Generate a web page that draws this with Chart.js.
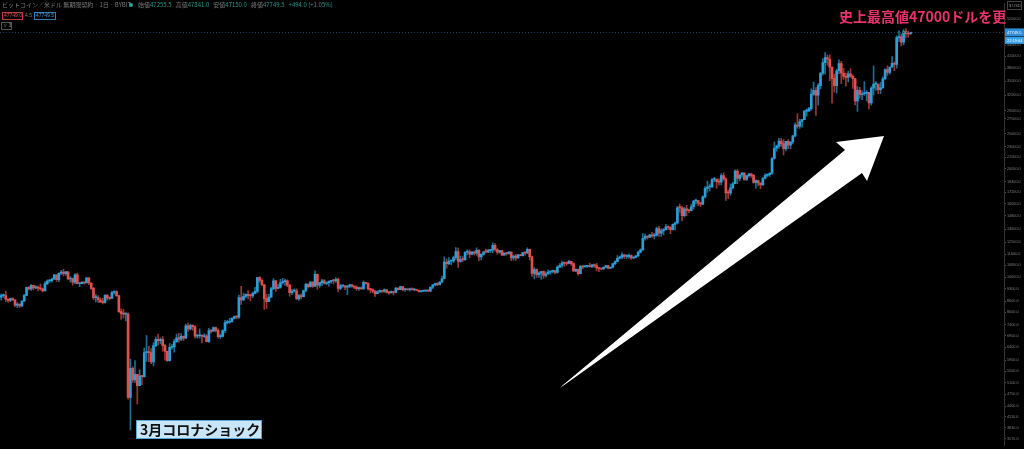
<!DOCTYPE html>
<html lang="ja">
<head>
<meta charset="utf-8">
<title>ビットコイン／米ドル 無期限契約 日足</title>
<script src="https://cdn.jsdelivr.net/npm/chart.js@4.4.1/dist/chart.umd.min.js"></script>
<style>
  html, body { margin: 0; padding: 0; background: #000; overflow: hidden; }
  #wrap { width: 1024px; height: 449px; position: relative; }
</style>
</head>
<body>
<div id="wrap"><canvas id="chart"></canvas></div>
<script>
// daily candles, BYBIT BTC/USD perpetual, 2020-01-17 .. 2021-02-14
const startDate = '2020-01-17';
const slotCount = 435; // visible day slots incl. empty space on the right
const firstOpen = 8820;

const closes = [
  8900, 8910, 8700, 8630, 8730, 8660, 8380, 8430, 8330, 8600, 8900, 9390, 9290, 9500, 9350,
  9390, 9340, 9290, 9180, 9610, 9770, 9800, 9900, 10170, 9860, 10270, 10350, 10240, 10360, 9900, 9930, 9700, 10170, 9600, 9610, 9690, 9660, 9970, 9650, 9320, 8790, 8790, 8670, 8540,
  8530, 8920, 8760, 8750, 9080, 9130, 8900, 8040, 7930, 7910, 7910, 4650, 5600, 5200, 5390, 5010, 5340, 5310, 6190, 6200, 6190, 5830, 6470, 6740, 6680, 6740, 6470, 6240, 5880, 6400, 6420,
  6640, 6800, 6740, 6870, 6780, 7340, 7200, 7370, 7300, 6870, 6890, 6920, 6860, 6880, 6640, 7120, 7100, 7260, 7130, 6850, 6860, 7120, 7490, 7510, 7540, 7700, 7790, 7760, 8790, 8660,
  8860, 8980, 8900, 8890, 9030, 9150, 9990, 9810, 9540, 8730, 8570, 8820, 9310, 9790, 9320, 9380, 9670, 9730, 9780, 9510, 9070, 9170, 9180, 8720, 8900, 8840, 9200, 9580, 9430, 9700, 9450,
  10200, 9520, 9670, 9790, 9620, 9670, 9750, 9790, 9780, 9880, 9320, 9470, 9480, 9390, 9450, 9540, 9460, 9400, 9310, 9360, 9290, 9690, 9630, 9290, 9250, 9160, 9010, 9120, 9190, 9140,
  9230, 9090, 9060, 9130, 9080, 9340, 9250, 9430, 9240, 9290, 9240, 9300, 9240, 9250, 9200, 9130, 9160, 9170, 9210, 9160, 9390, 9530, 9610, 9550, 9710, 9930, 11030, 10910, 11100, 11110, 11350,
  11800, 11070, 11230, 11190, 11740, 11770, 11600, 11760, 11680, 11880, 11400, 11580, 11780, 11770, 11860, 11910, 12280, 11950, 11750, 11860, 11520, 11680, 11650, 11750, 11330, 11460, 11320, 11540, 11480, 11710, 11680,
  11970, 11410, 10250, 10510, 10170, 10280, 10370, 10130, 10220, 10340, 10390, 10440, 10330, 10680, 10790, 10950, 10940, 10930, 11080, 10920, 10420, 10530, 10240, 10740, 10690, 10730, 10770, 10700, 10840, 10780,
  10620, 10570, 10550, 10670, 10790, 10600, 10670, 10920, 11060, 11300, 11380, 11540, 11430, 11430, 11500, 11320, 11360, 11480, 11740, 11920, 12820, 12970, 12930, 13120, 13030, 13070, 13650, 13270, 13460, 13560, 13800,
  13760, 13550, 14020, 14150, 15590, 15580, 14830, 15480, 15330, 15300, 15700, 16280, 16320, 16070, 15960, 16720, 17650, 17800, 17820, 18680, 18710, 18420, 18370, 19160, 18740, 17150, 17140, 17720, 18180, 19700,
  18800, 19220, 19450, 18700, 19150, 19360, 19170, 18320, 18550, 18260, 18040, 18800, 19170, 19270, 19440, 21350, 22800, 23110, 23870, 23480, 22740, 23820, 23240, 23730, 24660, 26440, 26250, 27040, 27370, 28880, 28950,
  29370, 32190, 33000, 31990, 33990, 36820, 39370, 40670, 40240, 38240, 35540, 34010, 37390, 39150, 36830, 36070, 35810, 36630, 36070, 35550, 30830, 33010, 32080, 32280, 32370, 32570, 30440, 33470, 34320, 34320, 33110,
  33540, 35510, 37680, 36980, 38290, 39190, 38900, 46200, 46480, 44840, 47970, 47400, 47255.5, 47749.5
];

const highs = [
  9010, 8990, 9160, 8740, 8770, 8790, 8670, 8520, 8440, 8610, 8970, 9400, 9430, 9550, 9520,
  9470, 9470, 9590, 9340, 9740, 9850, 9880, 9950, 10180, 10170, 10300, 10460, 10520, 10400, 10380, 10050, 9970, 10250, 10260, 9680, 9740, 9700, 9990, 9990, 9660, 9380, 8970, 8900, 8780,
  8750, 8960, 8980, 8840, 9150, 9190, 9180, 8900, 8180, 8150, 7980, 7970, 5940, 5650, 5880, 5390, 5540, 5350, 6370, 6900, 6440, 6350, 6600, 6830, 6960, 6800, 6860, 6520, 6240, 6560, 6520,
  6740, 6960, 7000, 6990, 6890, 7420, 7470, 7420, 7390, 7350, 6950, 7200, 6920, 6990, 6940, 7230, 7170, 7300, 7280, 7200, 6970, 7170, 7600, 7620, 7700, 7740, 7810, 7840, 8940, 9450,
  9050, 9000, 9190, 8960, 9100, 9390, 10000, 10050, 9910, 9570, 8980, 8970, 9380, 9920, 9820, 9570, 9880, 9940, 9900, 9840, 9570, 9270, 9300, 9300, 8980, 9010, 9220, 9610, 9590, 9740, 9720,
  10420, 10230, 9690, 9880, 9860, 9720, 9780, 9800, 9880, 9990, 9950, 9560, 9500, 9490, 9500, 9580, 9560, 9480, 9470, 9400, 9420, 9780, 9690, 9660, 9320, 9300, 9190, 9180, 9230, 9200,
  9300, 9260, 9130, 9180, 9150, 9370, 9360, 9460, 9440, 9320, 9300, 9340, 9350, 9290, 9270, 9220, 9180, 9200, 9240, 9230, 9420, 9550, 9650, 9680, 9740, 10080, 11400, 11250, 11340, 11170, 11450,
  12100, 12050, 11450, 11420, 11800, 11920, 11920, 11810, 11830, 12080, 11940, 11620, 11800, 11990, 11960, 11950, 12460, 12400, 12010, 11880, 11880, 11690, 11710, 11800, 11770, 11530, 11590, 11570, 11590, 11720, 11770,
  12080, 11990, 11460, 10640, 10560, 10360, 10400, 10430, 10360, 10500, 10410, 10470, 10460, 10770, 10930, 11100, 11040, 11050, 11170, 11080, 10990, 10560, 10540, 10780, 10760, 10790, 10800, 10950, 10860, 10880,
  10940, 10670, 10600, 10700, 10800, 10800, 10690, 10940, 11110, 11490, 11450, 11700, 11560, 11560, 11620, 11540, 11420, 11490, 11820, 12000, 13220, 13190, 13020, 13160, 13340, 13240, 13780, 13850, 13630, 13650, 14040,
  13900, 13810, 14070, 14240, 15750, 15960, 15770, 15650, 15840, 15460, 15950, 16340, 16480, 16330, 16140, 16840, 17860, 18480, 18130, 18780, 18950, 18750, 18770, 19400, 19480, 18900, 17450, 18160, 18330, 19850,
  19900, 19300, 19560, 19510, 19160, 19410, 19400, 19290, 18630, 18600, 18270, 18930, 19400, 19360, 19530, 21500, 23730, 23270, 24270, 24280, 24100, 23830, 24080, 23780, 24760, 26820, 28420, 27430, 27380, 28980, 29320,
  29600, 33300, 34800, 33600, 34440, 36940, 40370, 41950, 41380, 41350, 38260, 36600, 37810, 40100, 39700, 37950, 36820, 37300, 37850, 36400, 35600, 33800, 33640, 32880, 34880, 32940, 32600, 33780, 38500, 34860, 34330,
  34700, 35970, 37850, 38600, 38300, 40950, 39600, 46750, 48200, 47300, 48600, 48900, 48100, 47841
];

const lows = [
  8650, 8800, 8560, 8520, 8570, 8630, 8300, 8240, 8260, 8300, 8570, 8880, 9230, 9200, 9250,
  9310, 9170, 9220, 9110, 9170, 9540, 9690, 9700, 9860, 9740, 9730, 10170, 10090, 10120, 9860, 9700, 9520, 9590, 9590, 9420, 9600, 9570, 9650, 9540, 9260, 8680, 8550, 8520, 8520,
  8440, 8490, 8650, 8660, 8740, 8990, 8850, 8000, 7650, 7710, 7580, 4600, 3780, 5120, 5120, 4460, 5010, 5040, 5290, 5850, 5840, 5770, 5680, 6430, 6490, 6540, 6250, 5900, 5850, 5860, 6330,
  6210, 6600, 6610, 6680, 6690, 6770, 7080, 7150, 7140, 6780, 6790, 6780, 6580, 6820, 6620, 6600, 7010, 7080, 7060, 6780, 6760, 6840, 7030, 7420, 7460, 7510, 7670, 7680, 7700, 8410,
  8620, 8770, 8720, 8610, 8790, 9000, 9050, 9690, 9490, 8150, 8200, 8570, 8810, 9250, 9140, 9300, 9340, 9570, 9500, 9430, 8870, 8950, 9100, 8690, 8640, 8710, 8830, 9110, 9340, 9390, 9380,
  9420, 9270, 9380, 9480, 9580, 9550, 9450, 9620, 9590, 9690, 9120, 9250, 9380, 9240, 8950, 9370, 9380, 9300, 9200, 9200, 9270, 9280, 9570, 9220, 9050, 9060, 8850, 9000, 9080, 9090,
  9100, 9050, 8970, 9050, 8940, 9060, 9210, 9240, 9180, 9150, 9210, 9160, 9210, 9170, 9190, 9100, 9100, 9140, 9140, 9150, 9150, 9310, 9470, 9480, 9530, 9650, 9900, 10600, 10850, 10840, 10990,
  11220, 10660, 11000, 11060, 11140, 11560, 11350, 11540, 11530, 11530, 11130, 11180, 11520, 11680, 11700, 11700, 11690, 11820, 11600, 11670, 11500, 11520, 11530, 11590, 11130, 11160, 11150, 11280, 11480, 11450, 11520,
  11650, 11180, 10070, 9900, 10000, 10000, 9870, 9950, 10010, 10200, 10210, 10290, 10220, 10280, 10640, 10660, 10720, 10790, 10890, 10800, 10380, 10370, 10140, 10220, 10560, 10670, 10650, 10680, 10640, 10660,
  10430, 10380, 10500, 10520, 10620, 10560, 10580, 10630, 10830, 11050, 11260, 11250, 11280, 11280, 11280, 11220, 11250, 11330, 11420, 11690, 11880, 12680, 12760, 12890, 12900, 12780, 13010, 12980, 12990, 13120, 13530,
  13580, 13220, 13540, 13540, 14060, 15140, 14330, 14720, 14820, 15080, 15280, 15460, 15980, 15800, 15700, 15900, 16570, 17200, 17360, 17760, 18420, 17640, 18000, 18050, 18580, 16350, 16520, 16900, 17580, 18180,
  18200, 18500, 18950, 18570, 18560, 18950, 18920, 18230, 17680, 17920, 17610, 18020, 18740, 19000, 19060, 19290, 21250, 22370, 22790, 23080, 21840, 22400, 22740, 22740, 23440, 24500, 25900, 25870, 26080, 27340, 27960,
  28800, 29030, 31960, 28100, 30000, 33300, 36340, 36600, 38720, 35110, 30400, 32600, 32400, 36700, 34400, 35400, 33900, 34800, 35900, 33400, 30070, 28850, 31400, 31100, 31950, 30840, 29250, 30000, 31990, 32970, 32300,
  32300, 33420, 35380, 36300, 36590, 38160, 37400, 37980, 45000, 43800, 44100, 46200, 46300, 47150
];

// price axis labels as shown on the right
const tickValues = [52000, 44000, 41000, 38000, 35000, 32000, 29000, 27500, 25000, 23000, 21500, 20000,
  18400, 17200, 16000, 14800, 13600, 12500, 11600, 10800, 10000, 9300, 8600, 8000, 7400, 6900, 6400,
  5900, 5500, 5100, 4750, 4400, 4110, 3830, 3570];

const headerTitle = 'ビットコイン／米ドル 無期限契約 · 1日 · BYBIT';
const headerOhlc = [['始値', '47255.5'], ['高値', '47841.0'], ['安値', '47150.0'], ['終値', '47749.5']];
const headerChange = '+494.0 (+1.05%)';
const athNote = '史上最高値47000ドルを更';
const crashNote = '3月コロナショック';

// 24h market: each day opens at the previous close
const opens = closes.map((c, i) => i === 0 ? firstOpen : closes[i - 1]);

const labels = [];
for (let i = 0; i < slotCount; i++) {
  const d = new Date(startDate + 'T00:00:00Z');
  d.setUTCDate(d.getUTCDate() + i);
  labels.push(d.toISOString().slice(0, 10));
}

const UP = '#2b9fd8', DOWN = '#e0504d';
const UP_WICK = '#1c6e94', DOWN_WICK = '#9a3836';
const isUp = closes.map((c, i) => c >= opens[i]);

const overlay = {
  id: 'overlay',
  afterDatasetsDraw(chart) {
    const ctx = chart.ctx;
    const y = chart.scales.y;
    const area = chart.chartArea;
    const last = closes[closes.length - 1];
    const py = Math.round(y.getPixelForValue(last)) + 0.5;
    ctx.save();
    ctx.strokeStyle = '#1d3e63';
    ctx.setLineDash([1, 2]);
    ctx.lineWidth = 1;
    ctx.beginPath();
    ctx.moveTo(area.left, py);
    ctx.lineTo(area.right, py);
    ctx.stroke();
    ctx.restore();
  },
  afterDraw(chart) {
    const ctx = chart.ctx;
    const y = chart.scales.y;
    const area = chart.chartArea;
    ctx.save();
    ctx.textBaseline = 'middle';

    // header
    ctx.font = '6px "Noto Sans CJK JP"';
    ctx.fillStyle = '#7a7a7a';
    ctx.fillText(headerTitle, 2, 5);
    ctx.fillStyle = '#26a69a';
    ctx.beginPath();
    ctx.arc(131, 5, 2, 0, Math.PI * 2);
    ctx.fill();
    let hx = 138;
    headerOhlc.forEach(([k, v]) => {
      ctx.fillStyle = '#7a7a7a';
      ctx.fillText(k, hx, 5);
      hx += ctx.measureText(k).width;
      ctx.fillStyle = '#2a968e';
      ctx.fillText(v, hx, 5);
      hx += ctx.measureText(v).width + 4;
    });
    ctx.fillStyle = '#2a968e';
    ctx.fillText(headerChange, hx, 5);

    ctx.font = '5px "Liberation Sans"';
    ctx.lineWidth = 1;
    ctx.strokeStyle = '#b83c3c';
    ctx.strokeRect(2.5, 12.5, 20, 7);
    ctx.fillStyle = '#e05050';
    ctx.fillText('47749.0', 4, 16);
    ctx.fillStyle = '#7a7a7a';
    ctx.fillText('4.5', 25, 16);
    ctx.strokeStyle = '#2f7fc0';
    ctx.strokeRect(34.5, 12.5, 21, 7);
    ctx.fillStyle = '#4a9be0';
    ctx.fillText('47749.5', 36, 16);
    ctx.strokeStyle = '#555';
    ctx.strokeRect(1.5, 22.5, 10, 7);
    ctx.fillStyle = '#8a8a8a';
    ctx.fillText('∨ 3', 3, 26);

    // axis corner
    ctx.strokeStyle = '#444';
    ctx.strokeRect(1007.5, 1.5, 14, 8);
    ctx.fillStyle = '#8a8a8a';
    ctx.font = '4px "Liberation Sans"';
    ctx.fillText('$ USD', 1009, 5.5);

    // last price tag
    const py = y.getPixelForValue(closes[closes.length - 1]);
    ctx.fillStyle = '#2d8fdc';
    ctx.fillRect(area.right + 1, py - 4, 19, 8);
    ctx.fillStyle = '#3aa0e8';
    ctx.fillRect(area.right + 1, py + 4.5, 19, 7);
    ctx.fillStyle = '#fff';
    ctx.font = '4px "Liberation Sans"';
    ctx.fillText('47749.5', area.right + 3, py);
    ctx.fillText('22:19:04', area.right + 3, py + 8);

    // arrow
    ctx.fillStyle = '#fff';
    ctx.beginPath();
    ctx.moveTo(560, 388);
    ctx.lineTo(563, 385);
    ctx.lineTo(845, 150);
    ctx.lineTo(836, 142);
    ctx.lineTo(884, 136);
    ctx.lineTo(867, 181);
    ctx.lineTo(862, 173);
    ctx.closePath();
    ctx.fill();

    // notes
    ctx.font = 'bold 14px "Noto Sans CJK JP"';
    ctx.fillStyle = '#e73370';
    ctx.fillText(athNote, 839, 17);

    ctx.fillStyle = '#c9e6f8';
    ctx.fillRect(136, 420, 126, 19);
    ctx.strokeStyle = '#5aa6d8';
    ctx.strokeRect(136.5, 420.5, 125, 18);
    ctx.fillStyle = '#111';
    ctx.fillText(crashNote, 140, 430);
    ctx.restore();
  }
};

new Chart(document.getElementById('chart'), {
  type: 'bar',
  data: {
    labels: labels,
    datasets: [
      {
        label: 'body',
        data: closes.map((c, i) => [opens[i], c]),
        backgroundColor: isUp.map(u => u ? UP : DOWN),
        barThickness: 2,
        minBarLength: 1,
        grouped: false,
        order: 0
      },
      {
        label: 'wick',
        data: closes.map((c, i) => [lows[i], highs[i]]),
        backgroundColor: isUp.map(u => u ? UP_WICK : DOWN_WICK),
        barThickness: 1,
        grouped: false,
        order: 1
      }
    ]
  },
  options: {
    responsive: true,
    maintainAspectRatio: false,
    animation: false,
    layout: { padding: 0 },
    plugins: { legend: { display: false }, tooltip: { enabled: false } },
    scales: {
      x: { display: false },
      y: {
        type: 'logarithmic',
        position: 'right',
        min: 3416,
        max: 57500,
        afterBuildTicks: s => { s.ticks = tickValues.map(v => ({ value: v })); },
        afterFit: s => { s.width = 20; },
        grid: { drawOnChartArea: false, drawTicks: true, tickLength: 2, color: '#4a4a4a' },
        border: { display: true, color: '#333' },
        ticks: {
          autoSkip: false,
          padding: 1,
          color: '#7d7d7d',
          font: { family: 'Liberation Sans', size: 3.8 },
          callback: v => Number(v).toFixed(1)
        }
      }
    }
  },
  plugins: [overlay]
});
</script>
</body>
</html>
